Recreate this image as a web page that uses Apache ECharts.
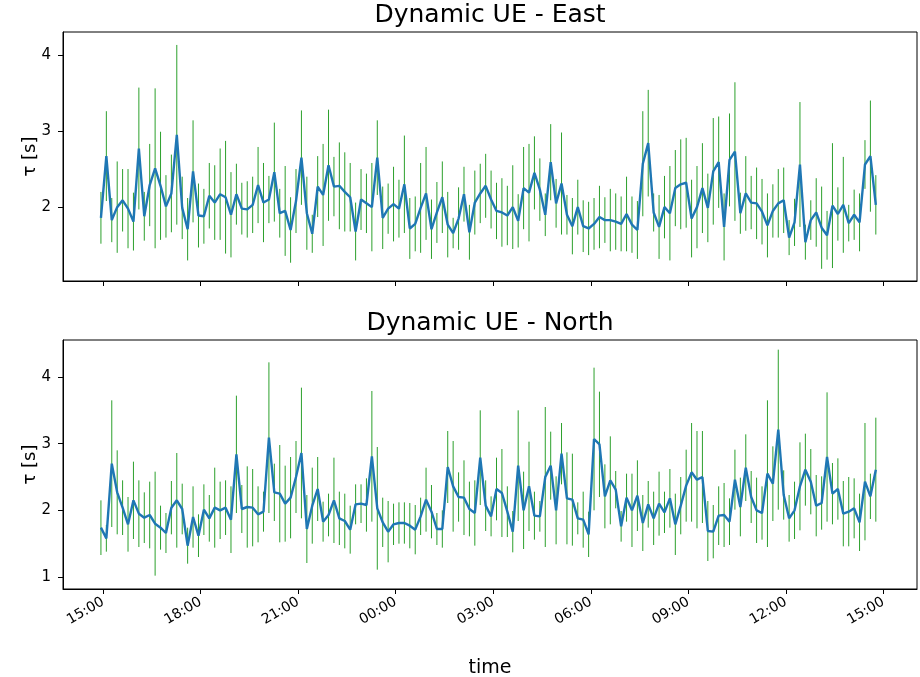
<!DOCTYPE html>
<html>
<head>
<meta charset="utf-8">
<script src="https://cdn.jsdelivr.net/npm/echarts@6/dist/echarts.min.js"></script>
<style>
  html, body { margin: 0; padding: 0; background: #fff; }
  #chart { width: 920px; height: 677px; }
</style>
</head>
<body>
<div id="chart"></div>
<script>
// samples every 10 minutes, first one a few minutes before 15:00
const startMinute = -4;
const stepMinutes = 10;

const tickMinutes = [0, 180, 360, 540, 720, 900, 1080, 1260, 1440];
const tickLabels = ['15:00', '18:00', '21:00', '00:00', '03:00', '06:00', '09:00', '12:00', '15:00'];

const titles = ['Dynamic UE - East', 'Dynamic UE - North'];

const eastMean = [
  1.86, 2.67, 1.83, 2.00, 2.09, 1.98, 1.81, 2.77, 1.88, 2.29, 2.51, 2.28, 2.01, 2.18, 2.95, 1.99,
  1.71, 2.47, 1.89, 1.88, 2.15, 2.06, 2.17, 2.13, 1.90, 2.17, 1.98, 1.97, 2.03, 2.29, 2.06, 2.10,
  2.46, 1.92, 1.95, 1.70, 2.08, 2.65, 1.92, 1.65, 2.27, 2.16, 2.55, 2.27, 2.28, 2.20, 2.13, 1.68,
  2.10, 2.05, 2.00, 2.65, 1.86, 1.98, 2.04, 1.98, 2.30, 1.72, 1.78, 1.99, 2.18, 1.71, 1.93, 2.13,
  1.77, 1.66, 1.85, 2.17, 1.67, 2.06, 2.18, 2.28, 2.10, 1.95, 1.93, 1.89, 2.00, 1.82, 2.25, 2.19,
  2.45, 2.23, 1.90, 2.59, 2.05, 2.31, 1.90, 1.75, 2.00, 1.75, 1.72, 1.78, 1.87, 1.83, 1.83, 1.81,
  1.78, 1.91, 1.77, 1.70, 2.57, 2.84, 1.93, 1.74, 2.00, 1.92, 2.25, 2.30, 2.32, 1.85, 2.00, 2.25,
  1.99, 2.47, 2.59, 1.74, 2.62, 2.73, 1.92, 2.18, 2.06, 2.05, 1.94, 1.76, 1.95, 2.05, 2.09, 1.60,
  1.80, 2.56, 1.54, 1.83, 1.93, 1.73, 1.63, 2.02, 1.91, 2.03, 1.79, 1.90, 1.80, 2.56, 2.67, 2.03
];
const eastErr = [
  0.34, 0.59, 0.29, 0.60, 0.41, 0.52, 0.38, 0.80, 0.32, 0.54, 1.05, 0.71, 0.41, 0.51, 1.18, 0.41,
  0.41, 0.67, 0.42, 0.36, 0.43, 0.49, 0.60, 0.74, 0.56, 0.40, 0.34, 0.37, 0.37, 0.50, 0.52, 0.31,
  0.65, 0.32, 0.59, 0.43, 0.42, 0.62, 0.48, 0.25, 0.40, 0.67, 0.73, 0.39, 0.57, 0.52, 0.45, 0.38,
  0.40, 0.39, 0.58, 0.49, 0.41, 0.33, 0.49, 0.38, 0.64, 0.40, 0.36, 0.59, 0.61, 0.39, 0.40, 0.47,
  0.43, 0.20, 0.41, 0.36, 0.36, 0.42, 0.39, 0.42, 0.38, 0.37, 0.45, 0.39, 0.55, 0.35, 0.54, 0.64,
  0.48, 0.41, 0.28, 0.50, 0.32, 0.67, 0.26, 0.37, 0.36, 0.34, 0.35, 0.34, 0.41, 0.30, 0.41, 0.37,
  0.36, 0.49, 0.37, 0.38, 0.69, 0.70, 0.25, 0.42, 0.41, 0.62, 0.50, 0.59, 0.59, 0.51, 0.54, 0.59,
  0.45, 0.70, 0.60, 0.44, 0.61, 0.91, 0.27, 0.49, 0.35, 0.47, 0.43, 0.42, 0.35, 0.45, 0.43, 0.23,
  0.31, 0.82, 0.23, 0.26, 0.45, 0.54, 0.32, 0.82, 0.35, 0.63, 0.24, 0.33, 0.38, 0.32, 0.73, 0.39
];

const northMean = [
  1.74, 1.58, 2.70, 2.27, 2.04, 1.79, 2.15, 1.95, 1.89, 1.93, 1.80, 1.74, 1.66, 2.04, 2.15, 2.02,
  1.47, 1.90, 1.62, 2.01, 1.88, 2.04, 2.00, 2.04, 1.86, 2.84, 2.02, 2.05, 2.04, 1.94, 1.98, 3.09,
  2.27, 2.25, 2.10, 2.19, 2.50, 2.86, 1.72, 2.07, 2.32, 1.83, 1.93, 2.15, 1.88, 1.84, 1.71, 2.09,
  2.10, 2.08, 2.81, 2.03, 1.82, 1.68, 1.79, 1.81, 1.81, 1.77, 1.71, 1.91, 2.16, 1.98, 1.72, 1.72,
  2.65, 2.36, 2.20, 2.19, 2.02, 1.96, 2.79, 2.07, 1.91, 2.32, 2.26, 1.98, 1.68, 2.67, 2.00, 2.36,
  1.92, 1.91, 2.50, 2.67, 2.00, 2.85, 2.18, 2.16, 1.88, 1.86, 1.64, 3.07, 2.99, 2.21, 2.45, 2.31,
  1.76, 2.19, 2.00, 2.22, 1.81, 2.09, 1.88, 2.10, 1.97, 2.18, 1.79, 2.07, 2.37, 2.57, 2.46, 2.50,
  1.69, 1.68, 1.92, 1.93, 1.83, 2.46, 2.05, 2.64, 2.20, 2.00, 1.96, 2.55, 2.40, 3.21, 2.23, 1.88,
  2.00, 2.36, 2.61, 2.43, 2.07, 2.11, 2.80, 2.25, 2.32, 1.95, 1.98, 2.03, 1.82, 2.43, 2.21, 2.61
];
const northErr = [
  0.41, 0.20, 0.95, 0.63, 0.41, 0.41, 0.58, 0.50, 0.38, 0.50, 0.78, 0.33, 0.30, 0.40, 0.71, 0.38,
  0.27, 0.46, 0.32, 0.38, 0.35, 0.60, 0.43, 0.41, 0.50, 0.88, 0.36, 0.61, 0.58, 0.42, 0.30, 1.13,
  0.43, 0.73, 0.57, 0.61, 0.54, 0.98, 0.51, 0.57, 0.48, 0.30, 0.32, 0.64, 0.40, 0.41, 0.36, 0.30,
  0.29, 0.40, 0.98, 0.92, 0.37, 0.46, 0.31, 0.31, 0.31, 0.34, 0.37, 0.28, 0.48, 0.40, 0.24, 0.28,
  0.54, 0.68, 0.37, 0.56, 0.41, 0.49, 0.71, 0.38, 0.30, 0.47, 0.66, 0.38, 0.31, 0.83, 0.58, 0.67,
  0.36, 0.23, 1.05, 0.51, 0.51, 0.46, 0.69, 0.69, 0.24, 0.42, 0.34, 1.07, 0.79, 0.48, 0.66, 0.28,
  0.23, 0.36, 0.55, 0.53, 0.42, 0.35, 0.40, 0.48, 0.31, 0.44, 0.46, 0.43, 0.54, 0.74, 0.73, 0.69,
  0.45, 0.40, 0.44, 0.48, 0.35, 0.45, 0.44, 0.50, 0.39, 0.49, 0.40, 1.10, 0.56, 1.20, 0.37, 0.35,
  0.43, 0.66, 0.54, 0.49, 0.46, 0.40, 0.97, 0.46, 0.46, 0.49, 0.52, 0.45, 0.43, 0.88, 0.34, 0.78
];

const font = 'DejaVu Sans';

function minutesOf(i) {
  return startMinute + i * stepMinutes;
}
function lineData(mean) {
  return mean.map((v, i) => [minutesOf(i), v]);
}
function barData(mean, err) {
  return mean.map((v, i) => [minutesOf(i), v - err[i], v + err[i]]);
}
function renderErrorBar(params, api) {
  const x = api.value(0);
  const lo = api.coord([x, api.value(1)]);
  const hi = api.coord([x, api.value(2)]);
  return {
    type: 'line',
    shape: { x1: lo[0], y1: lo[1], x2: hi[0], y2: hi[1] },
    style: { stroke: '#2ca02c', lineWidth: 1 }
  };
}
function xAxisFor(gridIndex, withLabels) {
  return {
    type: 'value',
    gridIndex: gridIndex,
    min: -74,
    max: 1502,
    axisLine: { show: true, onZero: false, lineStyle: { color: '#000', width: 1 } },
    axisTick: { show: true, inside: false, length: 5, customValues: tickMinutes, lineStyle: { color: '#000' } },
    splitLine: { show: false },
    axisLabel: {
      show: withLabels,
      customValues: tickMinutes,
      rotate: 30,
      margin: 12,
      color: '#000',
      fontFamily: font,
      fontSize: 14,
      formatter: function (value) {
        return tickLabels[tickMinutes.indexOf(value)];
      }
    },
    name: withLabels ? 'time' : '',
    nameLocation: 'middle',
    nameMoveOverlap: false,
    nameGap: 70,
    nameTextStyle: { color: '#000', fontFamily: font, fontSize: 19 }
  };
}
function yAxisFor(gridIndex, min, max, ticks) {
  return {
    type: 'value',
    gridIndex: gridIndex,
    min: min,
    max: max,
    axisLine: { show: true, onZero: false, lineStyle: { color: '#000', width: 1 } },
    axisTick: { show: true, inside: false, length: 5, customValues: ticks, lineStyle: { color: '#000' } },
    splitLine: { show: false },
    axisLabel: { customValues: ticks, margin: 12, color: '#000', fontFamily: font, fontSize: 15 },
    name: 'τ [s]',
    nameLocation: 'middle',
    nameRotate: 90,
    nameMoveOverlap: false,
    nameGap: 24,
    nameTextStyle: { color: '#000', fontFamily: font, fontSize: 18 }
  };
}

const chart = echarts.init(document.getElementById('chart'));
chart.setOption({
  animation: false,
  backgroundColor: '#fff',
  title: [
    { text: titles[0], left: 490, top: 3, padding: 0, textAlign: 'center',
      textStyle: { fontFamily: font, fontSize: 25, fontWeight: 'normal', color: '#000' } },
    { text: titles[1], left: 490, top: 311, padding: 0, textAlign: 'center',
      textStyle: { fontFamily: font, fontSize: 25, fontWeight: 'normal', color: '#000' } }
  ],
  grid: [
    { left: 63, top: 32, width: 854, height: 249, show: true, borderColor: '#000', borderWidth: 1,
      outerBoundsMode: 'none' },
    { left: 63, top: 340, width: 854, height: 249, show: true, borderColor: '#000', borderWidth: 1,
      outerBoundsMode: 'none' }
  ],
  xAxis: [xAxisFor(0, false), xAxisFor(1, true)],
  yAxis: [yAxisFor(0, 1.03, 4.30, [2, 3, 4]), yAxisFor(1, 0.82, 4.555, [1, 2, 3, 4])],
  series: [
    { type: 'custom', xAxisIndex: 0, yAxisIndex: 0, data: barData(eastMean, eastErr),
      encode: { x: 0, y: [1, 2] }, renderItem: renderErrorBar, z: 1 },
    { type: 'line', xAxisIndex: 0, yAxisIndex: 0, data: lineData(eastMean), showSymbol: false,
      lineStyle: { color: '#1f77b4', width: 2.4 }, itemStyle: { color: '#1f77b4' }, z: 2 },
    { type: 'custom', xAxisIndex: 1, yAxisIndex: 1, data: barData(northMean, northErr),
      encode: { x: 0, y: [1, 2] }, renderItem: renderErrorBar, z: 1 },
    { type: 'line', xAxisIndex: 1, yAxisIndex: 1, data: lineData(northMean), showSymbol: false,
      lineStyle: { color: '#1f77b4', width: 2.4 }, itemStyle: { color: '#1f77b4' }, z: 2 }
  ]
});
</script>
</body>
</html>
